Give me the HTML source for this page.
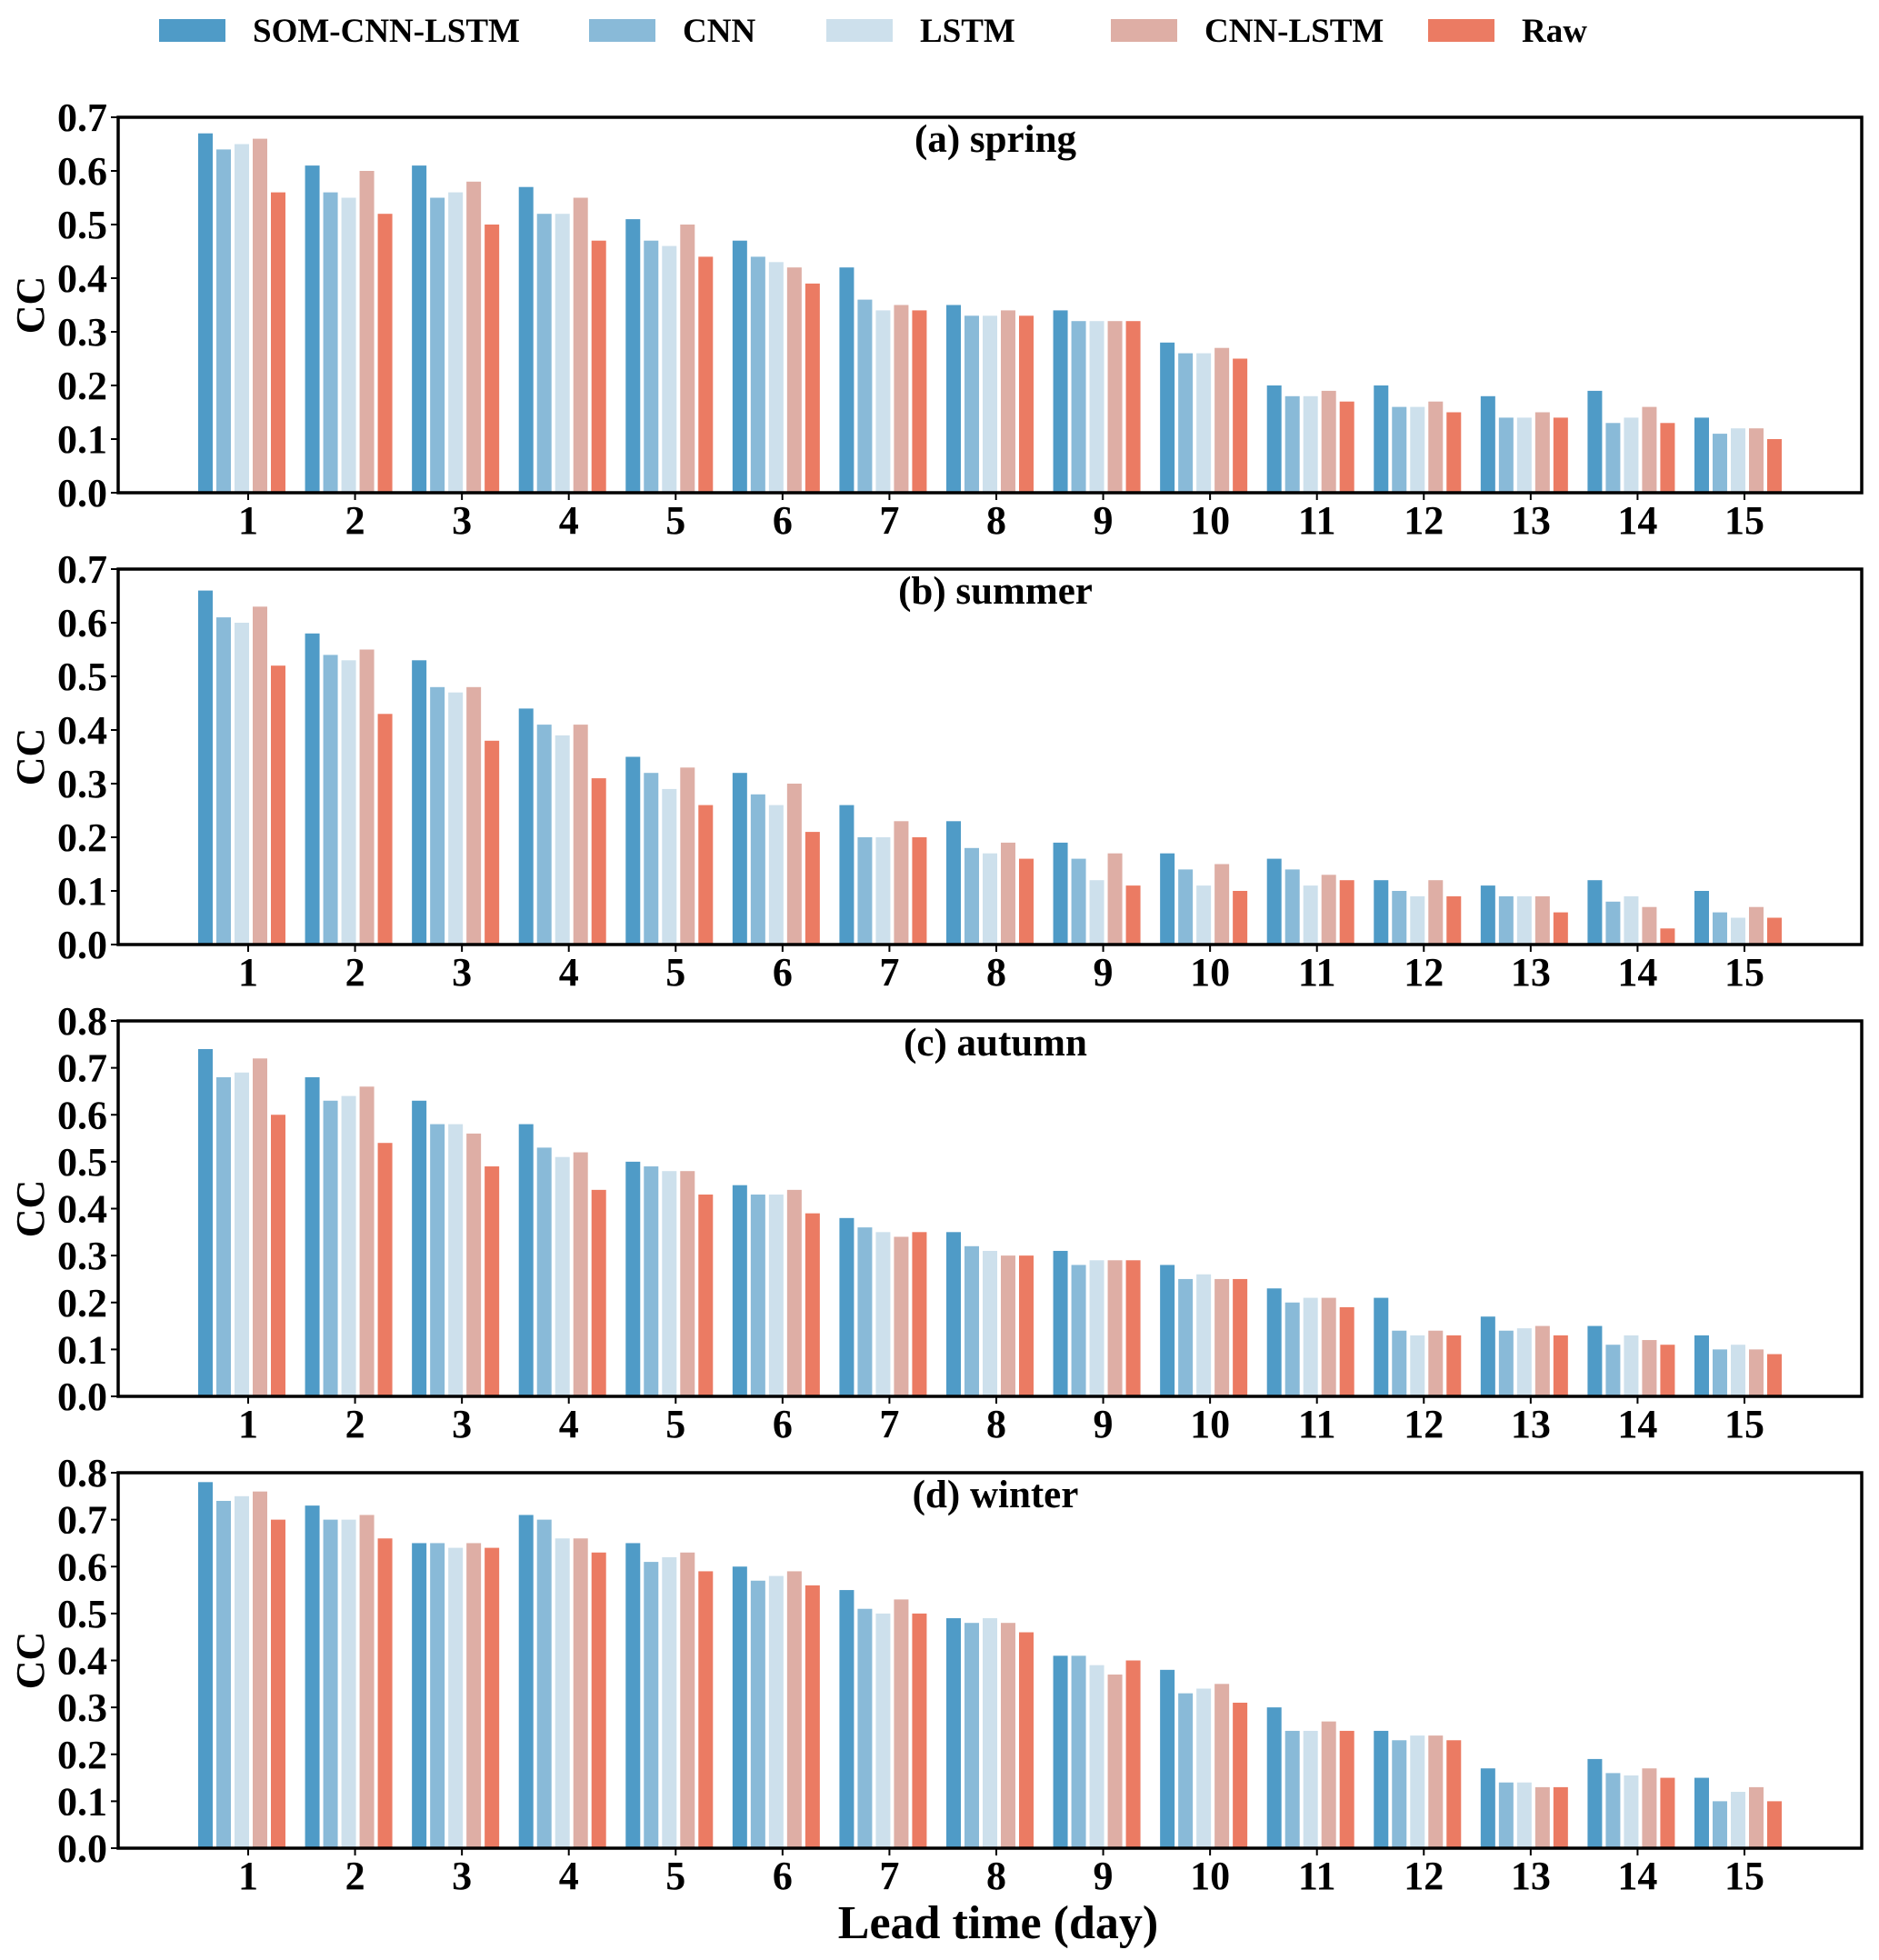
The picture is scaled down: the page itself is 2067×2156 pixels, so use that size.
<!DOCTYPE html>
<html><head><meta charset="utf-8">
<style>
html,body{margin:0;padding:0;background:#fff;}
svg{display:block;}
text{font-family:"Liberation Serif",serif;font-weight:bold;fill:#000;}
</style></head>
<body>
<svg id="chart" width="2067" height="2156" viewBox="0 0 2067 2156" xmlns="http://www.w3.org/2000/svg"></svg>
<script>
const categories = [1,2,3,4,5,6,7,8,9,10,11,12,13,14,15];
const seriesNames = ["SOM-CNN-LSTM","CNN","LSTM","CNN-LSTM","Raw"];
const seriesColors = ["#4f9bc7","#89bad8","#cde0ec","#deaea5","#eb7b63"];
const panelTitles = ["(a) spring","(b) summer","(c) autumn","(d) winter"];
const panelMax = [0.7,0.7,0.8,0.8];
const springSOM = [0.67,0.61,0.61,0.57,0.51,0.47,0.42,0.35,0.34,0.28,0.20,0.20,0.18,0.19,0.14];
const springCNN = [0.64,0.56,0.55,0.52,0.47,0.44,0.36,0.33,0.32,0.26,0.18,0.16,0.14,0.13,0.11];
const springLSTM = [0.65,0.55,0.56,0.52,0.46,0.43,0.34,0.33,0.32,0.26,0.18,0.16,0.14,0.14,0.12];
const springCNNLSTM = [0.66,0.60,0.58,0.55,0.50,0.42,0.35,0.34,0.32,0.27,0.19,0.17,0.15,0.16,0.12];
const springRaw = [0.56,0.52,0.50,0.47,0.44,0.39,0.34,0.33,0.32,0.25,0.17,0.15,0.14,0.13,0.10];
const summerSOM = [0.66,0.58,0.53,0.44,0.35,0.32,0.26,0.23,0.19,0.17,0.16,0.12,0.11,0.12,0.10];
const summerCNN = [0.61,0.54,0.48,0.41,0.32,0.28,0.20,0.18,0.16,0.14,0.14,0.10,0.09,0.08,0.06];
const summerLSTM = [0.60,0.53,0.47,0.39,0.29,0.26,0.20,0.17,0.12,0.11,0.11,0.09,0.09,0.09,0.05];
const summerCNNLSTM = [0.63,0.55,0.48,0.41,0.33,0.30,0.23,0.19,0.17,0.15,0.13,0.12,0.09,0.07,0.07];
const summerRaw = [0.52,0.43,0.38,0.31,0.26,0.21,0.20,0.16,0.11,0.10,0.12,0.09,0.06,0.03,0.05];
const autumnSOM = [0.74,0.68,0.63,0.58,0.50,0.45,0.38,0.35,0.31,0.28,0.23,0.21,0.17,0.15,0.13];
const autumnCNN = [0.68,0.63,0.58,0.53,0.49,0.43,0.36,0.32,0.28,0.25,0.20,0.14,0.14,0.11,0.10];
const autumnLSTM = [0.69,0.64,0.58,0.51,0.48,0.43,0.35,0.31,0.29,0.26,0.21,0.13,0.145,0.13,0.11];
const autumnCNNLSTM = [0.72,0.66,0.56,0.52,0.48,0.44,0.34,0.30,0.29,0.25,0.21,0.14,0.15,0.12,0.10];
const autumnRaw = [0.60,0.54,0.49,0.44,0.43,0.39,0.35,0.30,0.29,0.25,0.19,0.13,0.13,0.11,0.09];
const winterSOM = [0.78,0.73,0.65,0.71,0.65,0.60,0.55,0.49,0.41,0.38,0.30,0.25,0.17,0.19,0.15];
const winterCNN = [0.74,0.70,0.65,0.70,0.61,0.57,0.51,0.48,0.41,0.33,0.25,0.23,0.14,0.16,0.10];
const winterLSTM = [0.75,0.70,0.64,0.66,0.62,0.58,0.50,0.49,0.39,0.34,0.25,0.24,0.14,0.155,0.12];
const winterCNNLSTM = [0.76,0.71,0.65,0.66,0.63,0.59,0.53,0.48,0.37,0.35,0.27,0.24,0.13,0.17,0.13];
const winterRaw = [0.70,0.66,0.64,0.63,0.59,0.56,0.50,0.46,0.40,0.31,0.25,0.23,0.13,0.15,0.10];
const panelData = [
  [springSOM,springCNN,springLSTM,springCNNLSTM,springRaw],
  [summerSOM,summerCNN,summerLSTM,summerCNNLSTM,summerRaw],
  [autumnSOM,autumnCNN,autumnLSTM,autumnCNNLSTM,autumnRaw],
  [winterSOM,winterCNN,winterLSTM,winterCNNLSTM,winterRaw]
];

const NS="http://www.w3.org/2000/svg";
const svg=document.getElementById('chart');
function mk(tag,attrs,parent){const e=document.createElementNS(NS,tag);for(const k in attrs)e.setAttribute(k,attrs[k]);(parent||svg).appendChild(e);return e;}

const L=130,R=2048,H=413;
const tops=[129,626,1123,1620];
const xTick=i=>273+(i)*117.57;
const barW=16, barStep=20;

// legend
const legX=[175,648,909,1222,1571];
seriesNames.forEach((n,i)=>{
  const g=mk('g',{});
  
  
  mk('rect',{x:legX[i],y:21,width:73,height:25,fill:seriesColors[i]},g);
  const t=mk('text',{x:legX[i]+103,y:46,'font-size':37},g);
  t.textContent=n;
});

panelData.forEach((series,p)=>{
  const top=tops[p],bot=top+H,max=panelMax[p];
  const y=v=>bot-v/max*H;
  const g=mk('g',{});
  
  
  series.forEach((vals,s)=>{
    vals.forEach((v,i)=>{
      const cx=xTick(i)-7+(s-2)*barStep;
      const r=mk('rect',{x:cx-barW/2,y:y(v),width:barW,height:bot-y(v),fill:seriesColors[s]},g);
      
      
    });
  });
  const frame=mk('rect',{x:L,y:top,width:R-L,height:H,fill:'none',stroke:'#000','stroke-width':3.5},g);
  
  
  const nT=Math.round(max*10);
  for(let k=0;k<=nT;k++){
    const v=k/10,yy=y(v);
    mk('line',{x1:L-8,x2:L,y1:yy,y2:yy,stroke:'#000','stroke-width':2},g);
    const t=mk('text',{x:L-12,y:yy+15,'font-size':44,'text-anchor':'end'},g);
    
    
    t.textContent=v.toFixed(1);
  }
  categories.forEach((c,i)=>{
    const xx=xTick(i);
    mk('line',{x1:xx,x2:xx,y1:bot,y2:bot+8,stroke:'#000','stroke-width':2},g);
    const t=mk('text',{x:xx,y:bot+45,'font-size':44,'text-anchor':'middle'},g);
    
    
    t.textContent=c;
  });
  const tt=mk('text',{x:1095,y:top+38,'font-size':43,'text-anchor':'middle'},g);
  
  
  tt.textContent=panelTitles[p];
  const yl=mk('text',{x:0,y:0,'font-size':44,'text-anchor':'middle',transform:`translate(48,${top+H/2}) rotate(-90)`},g);
  
  
  yl.textContent='CC';
});
const xl=mk('text',{x:1098,y:2132,'font-size':52,'text-anchor':'middle'});


xl.textContent='Lead time (day)';
</script>
</body></html>
